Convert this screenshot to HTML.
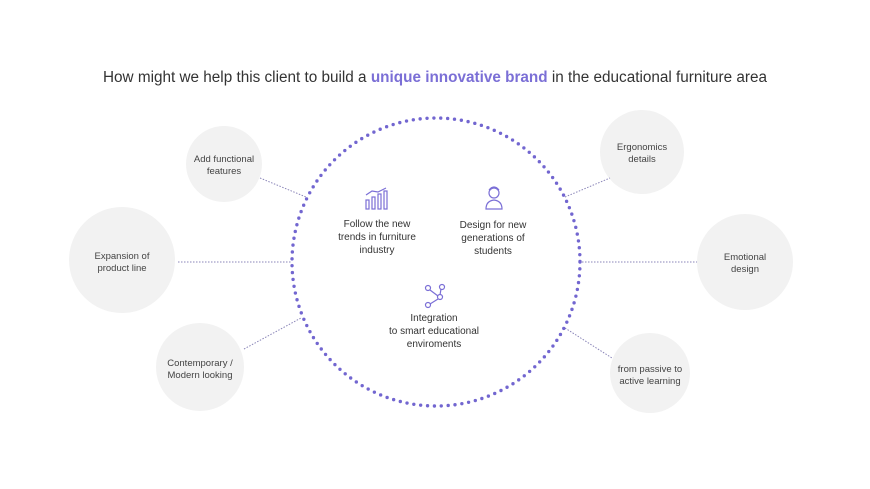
<!DOCTYPE html>
<html><head><meta charset="utf-8"><style>
html,body{margin:0;padding:0;background:#fff;}
svg{display:block;font-family:"Liberation Sans",sans-serif;}
</style></head><body>
<svg width="870" height="489" viewBox="0 0 870 489">
<text x="435" y="82" text-anchor="middle" font-size="15.3" fill="#333">How might we help this client to build a <tspan fill="#7b6fd6" font-weight="bold">unique innovative brand</tspan> in the educational furniture area</text>
<g fill="#f2f2f2">
<circle cx="224" cy="164" r="38"/>
<circle cx="122" cy="260" r="53"/>
<circle cx="200" cy="367" r="44"/>
<circle cx="642" cy="152" r="42"/>
<circle cx="745" cy="262" r="48"/>
<circle cx="650" cy="373" r="40"/>
</g>
<g stroke="#8a85b8" stroke-width="1" stroke-dasharray="1.5 1.5" fill="none">
<line x1="260" y1="178" x2="306" y2="197"/>
<line x1="178" y1="262" x2="291" y2="262"/>
<line x1="244" y1="349" x2="301" y2="318"/>
<line x1="565" y1="197" x2="610" y2="178"/>
<line x1="582" y1="262" x2="697" y2="262"/>
<line x1="565" y1="328" x2="612" y2="358"/>
</g>
<circle cx="436" cy="262" r="144" fill="none" stroke="#7266d0" stroke-width="3.4" stroke-linecap="round" stroke-dasharray="0 6.9"/>
<g font-size="9.5" fill="#444" text-anchor="middle">
<text x="224" y="162">Add functional</text><text x="224" y="174">features</text>
<text x="122" y="259">Expansion of</text><text x="122" y="271">product line</text>
<text x="200" y="366">Contemporary /</text><text x="200" y="378">Modern looking</text>
<text x="642" y="150">Ergonomics</text><text x="642" y="162">details</text>
<text x="745" y="260">Emotional</text><text x="745" y="272">design</text>
<text x="650" y="372">from  passive to</text><text x="650" y="384">active learning</text>
</g>
<g font-size="10" fill="#333" text-anchor="middle">
<text x="377" y="227">Follow the new</text><text x="377" y="240">trends in furniture</text><text x="377" y="253">industry</text>
<text x="493" y="228">Design for new</text><text x="493" y="241">generations of</text><text x="493" y="254">students</text>
<text x="434" y="321">Integration</text><text x="434" y="334">to smart educational</text><text x="434" y="347">enviroments</text>
</g>
<g stroke="#7b6fd6" stroke-width="1.2" fill="none">
<rect x="366" y="200" width="3" height="9"/><rect x="372" y="197" width="3" height="12"/><rect x="378" y="194" width="3" height="15"/><rect x="384" y="191" width="3" height="18"/>
<polyline points="366,195 372,191 378,192 386,188"/>
<circle cx="494" cy="193" r="5"/><path d="M489,190 q5,-6 10,0 M486,209 q0,-8 8,-9 q8,1 8,9 z"/>
<circle cx="428" cy="288" r="2.5"/><circle cx="442" cy="287" r="2.5"/><circle cx="440" cy="297" r="2.5"/><circle cx="428" cy="305" r="2.5"/>
<path d="M430,290 l8,6 M441,289 l-1,6 M438,299 l-8,5"/>
</g>
</svg>
</body></html>
